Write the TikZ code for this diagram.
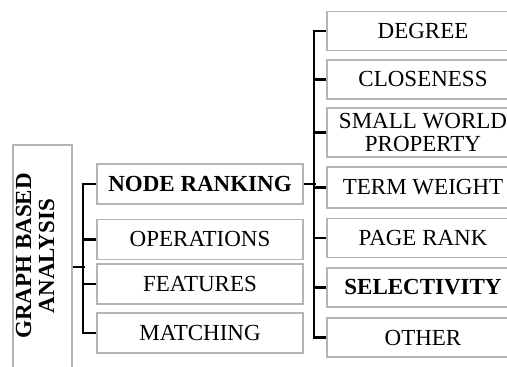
\documentclass[tikz,border=0pt]{standalone}
\usepackage{fontspec}
\setmainfont{Liberation Serif}
\usepackage{tikz}
\usetikzlibrary{positioning, calc}
\definecolor{BoxGray}{HTML}{B4B4B4}
\tikzset{
    catbox/.style={rectangle, draw=BoxGray, line width=0.8pt, inner sep=1pt,
        minimum width=103pt, minimum height=20pt, font=\fontsize{11.5}{11.5}\selectfont},
    catboxbold/.style={catbox, font=\fontsize{11.5}{11.5}\selectfont\bfseries},
    metricbox/.style={catbox, minimum width=96pt, minimum height=19.5pt, align=center},
    metricboxbold/.style={metricbox, font=\fontsize{11.5}{11.5}\selectfont\bfseries},
    rootbox/.style={rectangle, draw=BoxGray, line width=0.8pt,
        minimum width=29.5pt, minimum height=122pt},
    rootlabel/.style={rotate=90, align=center, inner sep=0pt,
        font=\fontsize{11.5}{11.5}\selectfont\bfseries},
    bracket/.style={line width=1.2pt, black},
}

\begin{document}
\begin{tikzpicture}[x=0.5pt, y=-0.5pt]
    \useasboundingbox (0,0) rectangle (507,367);
    \clip (0,0) rectangle (507,367);

    % root
    \node[rootbox] (root) at (42.5,267) {};
    \node[rootlabel] (rootlbl) at (35,256) {GRAPH BASED\\ANALYSIS};

    % categories
    \node[catboxbold] (rank) at (200,184) {NODE RANKING};
    \node[catbox] (ops) at (200,239.5) {OPERATIONS};
    \node[catbox] (feat) at (200,284) {FEATURES};
    \node[catbox] (match) at (200,333) {MATCHING};

    % ranking measures
    \node[metricbox] (degree) at (423,31) {DEGREE};
    \node[metricbox] (closeness) at (423,79.5) {CLOSENESS};
    \node[metricbox, minimum height=24.5pt] (world) at (423,132.5) {SMALL WORLD\\PROPERTY};
    \node[metricbox, minimum height=20.5pt] (term) at (423,187.5) {TERM WEIGHT};
    \node[metricbox] (page) at (423,238) {PAGE RANK};
    \node[metricboxbold] (select) at (423,287.5) {SELECTIVITY};
    \node[metricbox] (other) at (423,337.5) {OTHER};

    % brackets
    \draw[bracket] (root.east) -- ++(12,0);
    \draw[bracket] (rank.west) -- ++(-13,0) |- (match.west);
    \foreach \n in {ops, feat}
        \draw[bracket] (\n.west) -- ++(-13,0);

    \draw[bracket] (rank.east) -- ++(12,0);
    \draw[bracket] (degree.west) -- ++(-12,0) |- (other.west);
    \foreach \n in {closeness, world, term, page, select}
        \draw[bracket] (\n.west) -- ++(-12,0);
\end{tikzpicture}
\end{document}
